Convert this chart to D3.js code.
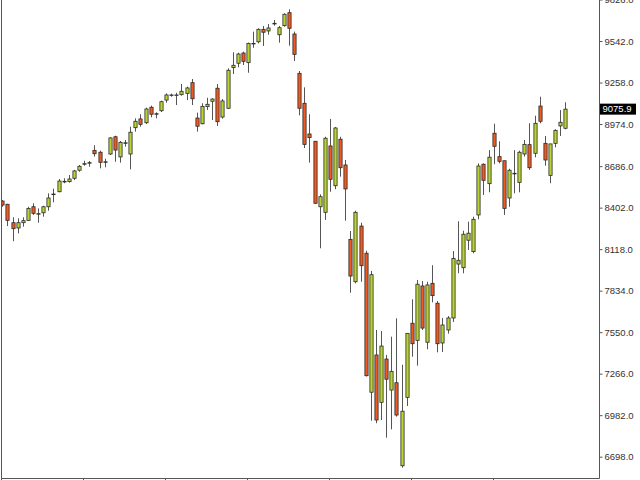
<!DOCTYPE html>
<html>
<head>
<meta charset="utf-8">
<script src="https://cdn.jsdelivr.net/npm/d3@7"></script>
<style>
html,body{margin:0;padding:0;background:#fff;}
svg{display:block;}
</style>
</head>
<body>
<svg id="chart" width="640" height="480"></svg>
<script>
const openV  = [8447,8425,8299,8263,8299,8315,8408,8361,8367,8408,8495,8511,8582,8580,8603,8658,8703,8710,8794,8781,8716,8769,8887,8749,8846,8769,8949,9009,8983,9089,9045,9065,9138,9173,9173,9175,9184,9257,9015,8976,9093,9130,9219,9022,9082,9360,9390,9460,9394,9526,9537,9622,9611,9663,9585,9647,9736,9590,9321,9116,8906,8856,8408,8370,8824,8552,8870,8694,8185,7895,8276,8090,7139,7394,7070,7366,7154,7204,6636,7104,7611,7494,7866,7481,7884,7748,7476,7565,7647,8016,7991,8179,8101,8352,8699,8566,8911,8751,8723,8468,8637,8575,8769,8833,8774,9097,8842,8623,8842,8961,8945];
const highV  = [8454,8428,8336,8329,8336,8408,8432,8397,8415,8500,8532,8598,8603,8625,8660,8694,8723,8721,8829,8792,8737,8883,8894,8858,8865,8956,9013,9041,9086,9100,9054,9134,9184,9182,9188,9248,9230,9282,9052,9116,9154,9150,9248,9145,9355,9465,9462,9469,9531,9606,9629,9645,9658,9686,9645,9732,9759,9606,9337,9225,9041,8858,8493,8887,9009,8954,8887,8728,8242,8381,8299,8107,7969,7565,7558,7394,7519,7645,7327,7544,7775,7907,7900,7895,8008,7763,7647,7660,8105,8309,8244,8306,8340,8705,8705,8796,8976,8856,8723,8668,8796,8792,8865,8979,9031,9161,8892,8838,8938,9070,9123];
const lowV   = [8408,8276,8172,8226,8272,8313,8352,8299,8340,8381,8439,8507,8569,8573,8591,8648,8689,8682,8751,8671,8678,8762,8716,8710,8819,8664,8922,8956,8974,9020,9013,9056,9120,9161,9104,9168,9138,9104,8922,8972,9070,9002,8961,9011,9077,9316,9362,9378,9325,9496,9526,9508,9585,9647,9531,9640,9510,9405,9034,8810,8710,8427,8124,8318,8511,8528,8614,8313,7820,7884,7895,7247,6944,6927,6949,6828,6885,6972,6623,7045,7382,7321,7565,7433,7754,7412,7414,7540,7620,7953,7953,8112,8090,8322,8489,8507,8699,8705,8352,8408,8500,8507,8751,8660,8746,8979,8689,8569,8815,8892,8938];
const closeV = [8420,8315,8258,8299,8313,8397,8363,8361,8408,8468,8495,8584,8582,8598,8653,8685,8703,8710,8771,8712,8716,8879,8796,8849,8846,8918,8993,8972,9077,9041,9045,9127,9173,9173,9173,9198,9221,9147,8959,9095,9109,9145,8990,9132,9342,9376,9453,9403,9526,9526,9622,9602,9631,9663,9633,9725,9629,9451,9082,8835,8881,8432,8477,8877,8596,8947,8675,8530,7934,8370,8005,7252,7943,6949,7455,7228,7282,6983,7009,7542,7471,7878,7578,7873,7800,7471,7599,7647,8055,8042,8220,8227,8322,8687,8589,8747,8822,8719,8397,8658,8637,8781,8835,8675,8979,8993,8728,8838,8931,8986,9075.9];
const yTickValues = [9826,9542,9258,8974,8686,8402,8118,7834,7550,7266,6982,6698];
const lastPrice = 9075.9;
const timeTickEvery = 16;

const svg = d3.select("#chart");
const W = 640, H = 480;
const plotLeft = 1.5, plotRight = 599.5, plotBottom = 478.5;

const idx = d3.range(openV.length);
const x = d3.scaleLinear().domain([0, openV.length - 1]).range([2.3, 565.3]);
const y = d3.scaleLinear().domain([6552.2, 9822.7]).range([478, 0]);

const clip = svg.append("defs").append("clipPath").attr("id","plotclip")
  .append("rect").attr("x", plotLeft).attr("y", 0).attr("width", plotRight - plotLeft).attr("height", plotBottom);

const g = svg.append("g").attr("clip-path","url(#plotclip)");

const bodyW = 3.2;
const up = "#b8d432", down = "#f05a22";

g.selectAll("line.wick").data(idx).join("line")
  .attr("class","wick")
  .attr("x1", i => Math.round(x(i)) + 0.5).attr("x2", i => Math.round(x(i)) + 0.5)
  .attr("y1", i => y(highV[i])).attr("y2", i => y(lowV[i]))
  .attr("stroke", "#555").attr("stroke-width", 1);

g.selectAll("rect.body").data(idx).join("rect")
  .attr("class","body")
  .attr("x", i => Math.round(x(i)) + 0.5 - bodyW/2)
  .attr("y", i => y(Math.max(openV[i], closeV[i])))
  .attr("width", bodyW)
  .attr("height", i => Math.max(0.6, Math.abs(y(openV[i]) - y(closeV[i]))))
  .attr("fill", i => closeV[i] >= openV[i] ? up : down)
  .attr("stroke", "#2a2a2a").attr("stroke-width", 0.8);

// frame lines
svg.append("line").attr("x1", plotLeft).attr("x2", plotLeft).attr("y1", 0).attr("y2", plotBottom)
  .attr("stroke", "#555").attr("stroke-width", 1);
svg.append("line").attr("x1", plotLeft).attr("x2", plotRight).attr("y1", plotBottom).attr("y2", plotBottom)
  .attr("stroke", "#555").attr("stroke-width", 1);

// right axis
const yAxis = d3.axisRight(y).tickValues(yTickValues).tickSize(3).tickPadding(2)
  .tickFormat(d => d3.format(".1f")(d));
const ya = svg.append("g").attr("transform", `translate(${plotRight},0)`).call(yAxis);
ya.select(".domain").attr("stroke", "#555").attr("d", `M0,0V${plotBottom}`);
ya.selectAll(".tick line").attr("stroke", "#555");
ya.selectAll(".tick text").attr("fill", "#333").style("font-family", "'Liberation Sans', Arial, sans-serif").style("font-size", "9.5px");

// bottom time ticks
const tIdx = idx.filter(i => i % timeTickEvery === 0);
svg.selectAll("line.tt").data(tIdx).join("line")
  .attr("class","tt")
  .attr("x1", i => Math.round(x(i)) - 0.5).attr("x2", i => Math.round(x(i)) - 0.5)
  .attr("y1", plotBottom).attr("y2", plotBottom + 3)
  .attr("stroke", "#555");

// last price label
const ly = y(lastPrice);
svg.append("rect").attr("x", plotRight + 0.5).attr("y", ly - 5.5).attr("width", 36).attr("height", 11).attr("fill", "#000");
svg.append("text").attr("x", plotRight + 3).attr("y", ly).attr("dy", "0.35em")
  .attr("fill", "#fff").style("font-family", "'Liberation Sans', Arial, sans-serif").style("font-size", "9.5px")
  .text(d3.format(".1f")(lastPrice));
</script>
</body>
</html>
